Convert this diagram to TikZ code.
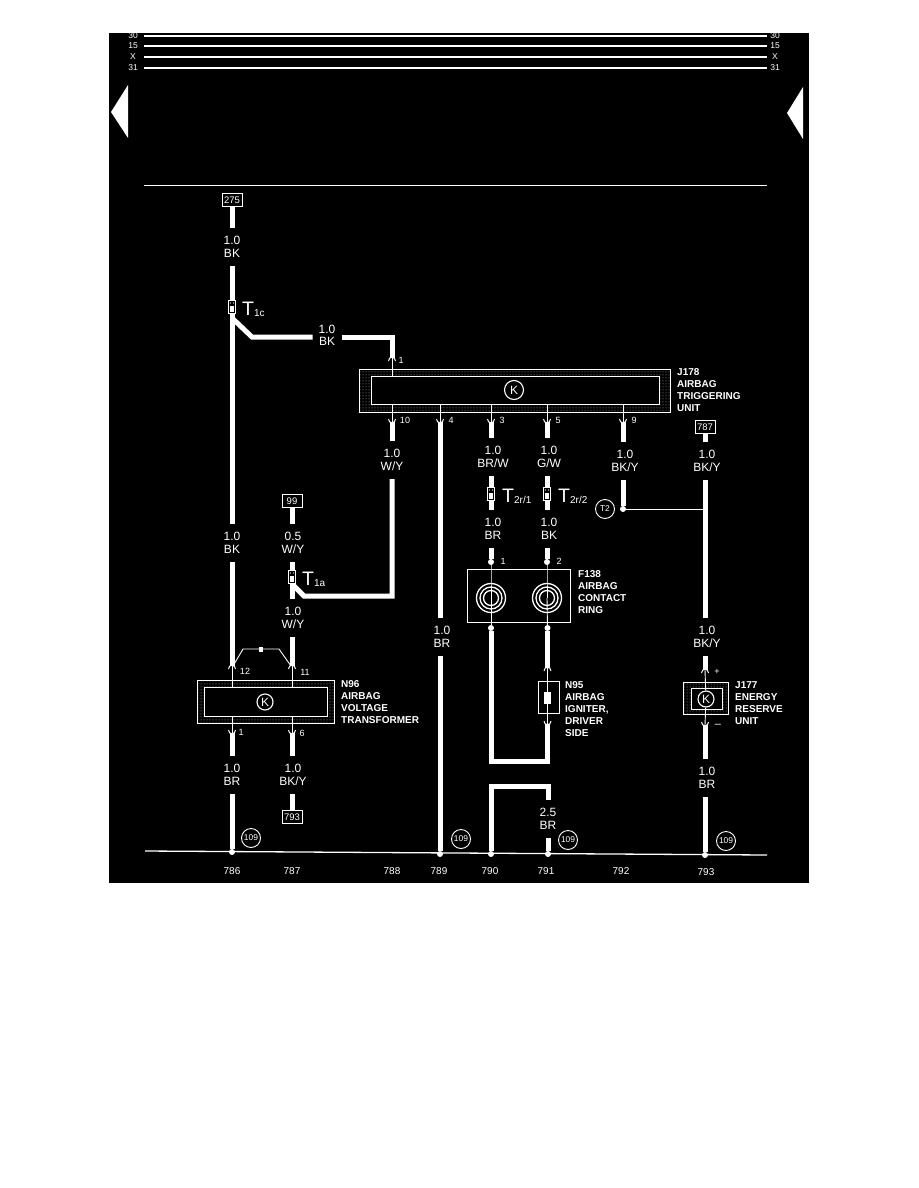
\documentclass[tikz,border=0pt]{standalone}
\usepackage{fontspec}
\usepackage{xcolor}
\usetikzlibrary{patterns}
\setmainfont{Liberation Sans}
\definecolor{panel}{HTML}{000000}
\definecolor{ink}{HTML}{FFFFFF}
\definecolor{band}{HTML}{B0B0B0}
\tikzset{
  wire/.style={draw=ink, line width=5pt, line join=miter},
  thinWire/.style={draw=ink, line width=0.9pt},
  busLine/.style={draw=ink, line width=2.2pt},
  pinArc/.style={draw=ink, line width=1pt},
  wireLabel/.style={text=ink, font=\fontsize{12}{12.6}\selectfont, align=center, inner sep=0pt, outer sep=0pt, minimum height=38pt},
  sideLabel/.style={wireLabel, minimum height=0pt, minimum width=29pt},
  unitLabel/.style={text=ink, font=\fontsize{10}{11.8}\selectfont\bfseries, align=left, anchor=west, inner sep=0pt},
  pinLabel/.style={text=ink, font=\fontsize{9}{9}\selectfont, inner sep=0pt},
  busLabel/.style={text=ink, font=\fontsize{8.5}{8.5}\selectfont, inner sep=0pt},
  colLabel/.style={text=ink, font=\fontsize{10}{10}\selectfont, inner sep=0pt},
  refBox/.style={draw=ink, fill=panel, text=ink, line width=0.9pt, font=\fontsize{9.5}{9.5}\selectfont, minimum width=20pt, minimum height=13pt, inner sep=0pt},
  refCircle/.style={circle, draw=ink, text=ink, line width=0.9pt, font=\fontsize{8.4}{8.4}\selectfont, minimum size=19pt, inner sep=0pt},
  kCircle/.style={circle, draw=ink, fill=panel, text=ink, line width=1.1pt, font=\fontsize{12}{12}\selectfont, minimum size=16pt, inner sep=0pt},
  junction/.style={circle, fill=ink, minimum size=6pt, inner sep=0pt},
  tapLabel/.style={text=ink, anchor=west, inner sep=0pt, font=\fontsize{19.5}{19.5}\selectfont},
  outerUnit/.style={draw=ink, line width=0.9pt, pattern=dots, pattern color=band},
  innerUnit/.style={draw=ink, fill=panel, line width=0.9pt},
  splice/.style={draw=ink, fill=panel, line width=0.7pt, minimum width=7pt, minimum height=13pt, inner sep=0pt,
    path picture={
      \fill[ink] ([xshift=-1.8pt,yshift=-4.5pt]path picture bounding box.center) rectangle ([xshift=1.8pt,yshift=1.5pt]path picture bounding box.center);
      \fill[ink] ([xshift=-1.5pt,yshift=4pt]path picture bounding box.center) circle (0.7pt);
      \fill[ink] ([xshift=1.5pt,yshift=4pt]path picture bounding box.center) circle (0.7pt);
    }}
}
\newcommand{\tapName}[1]{T{\fontsize{10}{10}\selectfont\raisebox{-1pt}{#1}}}
\newcommand{\pinUp}[1]{\draw[pinArc] ([shift={(-3.5,3)}]#1) .. controls ([shift={(-3.5,-2)}]#1) and ([shift={(3.5,-2)}]#1) .. ([shift={(3.5,3)}]#1);}
\newcommand{\pinDown}[1]{\draw[pinArc] ([shift={(-3.5,-3)}]#1) .. controls ([shift={(-3.5,2)}]#1) and ([shift={(3.5,2)}]#1) .. ([shift={(3.5,-3)}]#1);}

\begin{document}
\begin{tikzpicture}[x=1pt,y=-1pt]
  \useasboundingbox (0,0) rectangle (918,1188);
  \fill[white] (0,0) rectangle (918,1188);
  \fill[panel] (109,33) rectangle (809,883);

  % bus lines
  \foreach \busName/\busY in {30/36,15/46,X/57,31/68}{
    \node[busLabel] (busL\busName) at (133,\busY) {\busName};
    \node[busLabel] (busR\busName) at (775,\busY) {\busName};
    \draw[busLine] (busL\busName.center -| 144,0) -- (busR\busName.center -| 767,0);
  }
  \draw[draw=ink, line width=1.4pt] (144,185.5) -- (767,185.5);
  \fill[ink] (111,112) -- (128,85) -- (128,138) -- cycle;
  \fill[ink] (787,113) -- (803,87) -- (803,139) -- cycle;

  % ground line
  \coordinate (gndL) at (145,851);
  \coordinate (gndR) at (767,855);
  \draw[draw=ink, line width=1.3pt] (gndL) -- (gndR);

  % units
  \filldraw[outerUnit] (359,369) rectangle (670,412);
  \filldraw[innerUnit] (371,376) rectangle (659,404);
  \node[kCircle, minimum size=19pt] (kJ178) at (514,390) {K};
  \filldraw[outerUnit] (197,680) rectangle (334,723);
  \filldraw[innerUnit] (204,687) rectangle (327,716);
  \node[kCircle] (kN96) at (265,702) {K};
  \filldraw[outerUnit] (683,682) rectangle (728,714);
  \filldraw[innerUnit] (691,688) rectangle (722,709);
  \node[kCircle] (kJ177) at (706,699) {K};
  \draw[draw=ink, line width=0.9pt] (467,569) rectangle (570,622);
  \draw[draw=ink, line width=0.9pt] (538,681) rectangle (559,713);

  \node[unitLabel] (nameJ178) at (677,390) {J178\\AIRBAG\\TRIGGERING\\UNIT};
  \node[unitLabel] (nameN96) at (341,702) {N96\\AIRBAG\\VOLTAGE\\TRANSFORMER};
  \node[unitLabel] (nameF138) at (578,592) {F138\\AIRBAG\\CONTACT\\RING};
  \node[unitLabel] (nameN95) at (565,709) {N95\\AIRBAG\\IGNITER,\\DRIVER\\SIDE};
  \node[unitLabel] (nameJ177) at (735,703) {J177\\ENERGY\\RESERVE\\UNIT};

  % reference boxes
  \node[refBox] (box275) at (232,200) {275};
  \node[refBox] (box99) at (292,501) {99};
  \node[refBox] (box787) at (705,427) {787};
  \node[refBox] (box793) at (292,817) {793};

  % column A
  \node[wireLabel] (lblA1) at (232,247) {1.0\\BK};
  \node[wireLabel] (lblA2) at (232,543) {1.0\\BK};
  \node[wireLabel] (lblA3) at (232,775) {1.0\\BR};
  \coordinate (pinA12) at (232,666);
  \coordinate (pinA1) at (232,733);
  \node[junction] (gndA) at (232,852) {};
  \draw[wire] (box275) -- (lblA1.north);
  \draw[wire] (lblA1.south) -- (lblA2.north);
  \draw[wire] (lblA2.south) -- (pinA12);
  \draw[wire] (pinA1) -- (lblA3.north);
  \draw[wire] (lblA3.south) -- (gndA);

  % branch to J178
  \node[sideLabel] (lblC) at (327,335.5) {1.0\\BK};
  \coordinate (kneeC) at (252,337);
  \coordinate (cornerC) at (392,337);
  \coordinate (pinJ1) at (392,358);
  \coordinate (tapC) at (232,318);
  \draw[wire] (tapC) -- (kneeC) -- (lblC.west |- kneeC);
  \draw[wire] (lblC.east |- kneeC) -- (cornerC) -- (pinJ1);
  \node[splice] (spliceC) at (232,307) {};
  \node[tapLabel] (tapNameC) at (242,309) {\tapName{1c}};

  % column B
  \node[wireLabel] (lblB1) at (293,543) {0.5\\W/Y};
  \node[wireLabel] (lblB2) at (293,618) {1.0\\W/Y};
  \node[wireLabel] (lblB3) at (293,775) {1.0\\BK/Y};
  \coordinate (wireB) at (292,0);
  \coordinate (pinB11) at (292,666);
  \coordinate (pinB6) at (292,733);
  \draw[wire] (box99) -- (lblB1.north -| wireB);
  \draw[wire] (lblB1.south -| wireB) -- (lblB2.north -| wireB);
  \draw[wire] (lblB2.south -| wireB) -- (pinB11);
  \draw[wire] (pinB6) -- (lblB3.north -| wireB);
  \draw[wire] (lblB3.south -| wireB) -- (box793);
  \coordinate (tapD) at (292,584);
  \coordinate (kneeD) at (304,596);
  \coordinate (cornerD) at (392,596);
  \node[wireLabel] (lblD) at (392,460) {1.0\\W/Y};
  \coordinate (pinJ10) at (392,422);
  \draw[wire] (tapD) -- (kneeD) -- (cornerD) -- (lblD.south);
  \draw[wire] (lblD.north) -- (pinJ10);
  \node[splice] (spliceD) at (292,577) {};
  \node[tapLabel] (tapNameD) at (302,579) {\tapName{1a}};

  % link over N96
  \coordinate (linkL) at (233,666);
  \coordinate (linkR) at (291,666);
  \coordinate (linkM) at (261,649);
  \draw[thinWire] (linkL) -- (243,649) -- (279,649) -- (linkR);
  \node[fill=ink, minimum width=4pt, minimum height=5pt, inner sep=0pt] (linkMark) at (linkM) {};

  % column E
  \node[wireLabel] (lblE) at (442,637) {1.0\\BR};
  \coordinate (pinJ4) at (440,422);
  \node[junction] (gndE) at (440,854) {};
  \coordinate (wireE) at (440,0);
  \draw[wire] (pinJ4) -- (lblE.north -| wireE);
  \draw[wire] (lblE.south -| wireE) -- (gndE);

  % columns F and G
  \node[wireLabel] (lblF1) at (493,457) {1.0\\BR/W};
  \node[wireLabel] (lblF2) at (493,529) {1.0\\BR};
  \node[wireLabel] (lblG1) at (549,457) {1.0\\G/W};
  \node[wireLabel] (lblG2) at (549,529) {1.0\\BK};
  \coordinate (wireF) at (491,0);
  \coordinate (wireG) at (547,0);
  \coordinate (pinJ3) at (491,422);
  \coordinate (pinJ5) at (547,422);
  \node[junction] (pinF1) at (491,562) {};
  \node[junction] (pinG2) at (547,562) {};
  \draw[wire] (pinJ3) -- (lblF1.north -| wireF);
  \draw[wire] (lblF1.south -| wireF) -- (lblF2.north -| wireF);
  \draw[wire] (lblF2.south -| wireF) -- (pinF1);
  \draw[wire] (pinJ5) -- (lblG1.north -| wireG);
  \draw[wire] (lblG1.south -| wireG) -- (lblG2.north -| wireG);
  \draw[wire] (lblG2.south -| wireG) -- (pinG2);
  \node[splice] (spliceF) at (491,494) {};
  \node[splice] (spliceG) at (547,494) {};
  \node[tapLabel] (tapNameF) at (502,496) {\tapName{2r/1}};
  \node[tapLabel] (tapNameG) at (558,496) {\tapName{2r/2}};

  % contact ring
  \coordinate (coilF) at (491,598);
  \coordinate (coilG) at (547,598);
  \foreach \coilName in {coilF,coilG}{
    \draw[draw=ink, line width=1.3pt] (\coilName) circle (14.5);
    \draw[draw=ink, line width=1.3pt] (\coilName) circle (11);
    \draw[draw=ink, line width=1.3pt] (\coilName) circle (7.5);
  }
  \draw[thinWire] (pinF1) -- (491,576) -- (coilF);
  \draw[thinWire] (pinG2) -- (547,576) -- (coilG);
  \node[junction] (outF) at (491,628) {};
  \node[junction] (outG) at (547.5,628) {};
  \draw[thinWire] (coilF) -- (outF);
  \draw[thinWire] (coilG) -- (outG);

  % igniter
  \node[draw=ink, fill=ink, minimum width=6pt, minimum height=11pt, inner sep=0pt] (igniter) at (547.5,697.5) {};
  \coordinate (pinIgnTop) at (547.5,668);
  \coordinate (pinIgnBot) at (547.5,724);
  \coordinate (cornerRL) at (491,761);
  \coordinate (cornerRR) at (547.5,761);
  \draw[wire] (outG) -- (pinIgnTop);
  \draw[thinWire] (pinIgnTop) -- (igniter);
  \draw[thinWire] (igniter) -- (pinIgnBot);
  \draw[wire] (outF) -- (cornerRL) -- (cornerRR) -- (pinIgnBot);

  % ground loop
  \node[wireLabel] (lblH) at (548,819) {2.5\\BR};
  \node[junction] (gndF) at (491,854) {};
  \node[junction] (gndG) at (548,854) {};
  \coordinate (cornerHL) at (491,786);
  \coordinate (cornerHR) at (548,786);
  \draw[wire] (gndF) -- (cornerHL) -- (cornerHR) -- (lblH.north);
  \draw[wire] (lblH.south) -- (gndG);

  % column J
  \node[wireLabel] (lblJ) at (625,461) {1.0\\BK/Y};
  \coordinate (wireJ) at (623,0);
  \coordinate (pinJ9) at (623,422);
  \node[junction] (dotT2) at (623,509) {};
  \node[refCircle] (refT2) at (605,509) {T2};
  \draw[wire] (pinJ9) -- (lblJ.north -| wireJ);
  \draw[wire] (lblJ.south -| wireJ) -- (dotT2);

  % column K
  \node[wireLabel] (lblK1) at (707,461) {1.0\\BK/Y};
  \node[wireLabel] (lblK2) at (707,637) {1.0\\BK/Y};
  \node[wireLabel] (lblK3) at (707,778) {1.0\\BR};
  \coordinate (wireK) at (705,0);
  \coordinate (pinKplus) at (705,670);
  \coordinate (pinKminus) at (705,725);
  \node[junction] (gndK) at (705,855) {};
  \coordinate (tieK) at (705,509);
  \draw[wire] (box787) -- (lblK1.north -| wireK);
  \draw[wire] (lblK1.south -| wireK) -- (lblK2.north -| wireK);
  \draw[wire] (lblK2.south -| wireK) -- (pinKplus);
  \draw[wire] (pinKminus) -- (lblK3.north -| wireK);
  \draw[wire] (lblK3.south -| wireK) -- (gndK);
  \draw[thinWire] (dotT2) -- (tieK);

  % thin pin leads
  \draw[thinWire] (pinA12) -- (232,687);
  \draw[thinWire] (pinB11) -- (292,687);
  \draw[thinWire] (232,716) -- (pinA1);
  \draw[thinWire] (292,716) -- (pinB6);
  \draw[thinWire] (pinJ1) -- (392,376);
  \draw[thinWire] (392,404) -- (pinJ10);
  \draw[thinWire] (440,404) -- (pinJ4);
  \draw[thinWire] (491,404) -- (pinJ3);
  \draw[thinWire] (547,404) -- (pinJ5);
  \draw[thinWire] (623,404) -- (pinJ9);
  \draw[thinWire] (pinKplus) -- (kJ177);
  \draw[thinWire] (kJ177) -- (pinKminus);

  % pin arcs
  \pinUp{pinA12} \pinUp{pinB11} \pinUp{pinJ1} \pinUp{pinIgnTop} \pinUp{pinKplus}
  \pinDown{pinA1} \pinDown{pinB6} \pinDown{pinJ10} \pinDown{pinJ4} \pinDown{pinJ3}
  \pinDown{pinJ5} \pinDown{pinJ9} \pinDown{pinIgnBot} \pinDown{pinKminus}

  % pin numbers
  \node[pinLabel] (numJ1) at (401,360) {1};
  \node[pinLabel] (numJ10) at (405,420) {10};
  \node[pinLabel] (numJ4) at (451,420) {4};
  \node[pinLabel] (numJ3) at (502,420) {3};
  \node[pinLabel] (numJ5) at (558,420) {5};
  \node[pinLabel] (numJ9) at (634,420) {9};
  \node[pinLabel] (numF1) at (503,561) {1};
  \node[pinLabel] (numG2) at (559,561) {2};
  \node[pinLabel] (numA12) at (245,671) {12};
  \node[pinLabel] (numB11) at (305,672) {11};
  \node[pinLabel] (numA1) at (241,732) {1};
  \node[pinLabel] (numB6) at (302,733) {6};
  \node[pinLabel] (numPlus) at (717,672) {+};
  \node[pinLabel] (numMinus) at (718,726) {\fontsize{11}{11}\selectfont --};

  % ground references
  \node[refCircle] (refA) at (251,838) {109};
  \node[refCircle] (refE) at (461,839) {109};
  \node[refCircle] (refH) at (568,840) {109};
  \node[refCircle] (refK) at (726,841) {109};

  % column numbers
  \node[colLabel] (col786) at (232,871) {786};
  \node[colLabel] (col787) at (292,871) {787};
  \node[colLabel] (col788) at (392,871) {788};
  \node[colLabel] (col789) at (439,871) {789};
  \node[colLabel] (col790) at (490,871) {790};
  \node[colLabel] (col791) at (546,871) {791};
  \node[colLabel] (col792) at (621,871) {792};
  \node[colLabel] (col793) at (706,872) {793};
\end{tikzpicture}
\end{document}
